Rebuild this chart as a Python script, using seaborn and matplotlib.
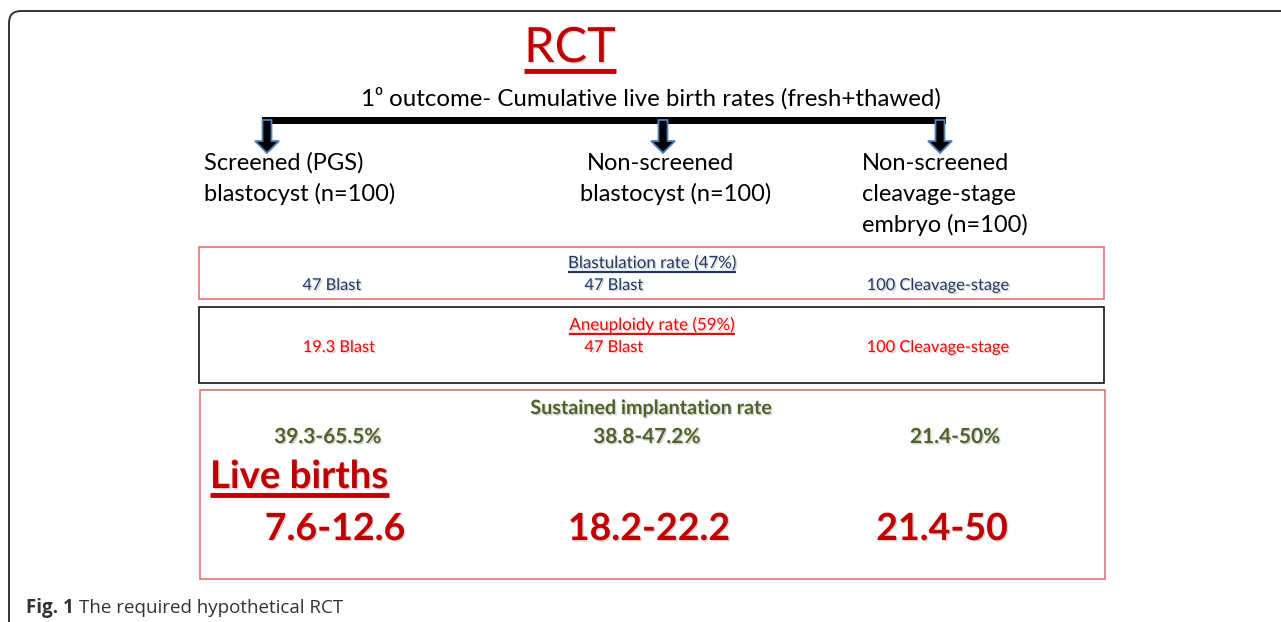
import seaborn as sns
import matplotlib.pyplot as plt
import matplotlib.patheffects as pe
from matplotlib.patches import FancyBboxPatch, Rectangle, FancyArrow

# textos del diagrama
titulo = "RCT"
subtitulo = "1\u2070 outcome- Cumulative live birth rates (fresh+thawed)"
grupos = [["Screened (PGS)", "blastocyst (n=100)"],
          ["Non-screened", "blastocyst (n=100)"],
          ["Non-screened", "cleavage-stage", "embryo (n=100)"]]
blastulacion = ["47 Blast", "47 Blast", "100 Cleavage-stage"]
aneuploidia = ["19.3 Blast", "47 Blast", "100 Cleavage-stage"]
implantacion = ["39.3-65.5%", "38.8-47.2%", "21.4-50%"]
nacidos = ["7.6-12.6", "18.2-22.2", "21.4-50"]
pie = ("Fig. 1", "The required hypothetical RCT")

# 1. Estilo base
sns.set_theme(style="white")
plt.rcParams["font.family"] = ["Lato", "DejaVu Sans"]

W, H = 1281, 622
fig = plt.figure(figsize=(W / 100, H / 100), dpi=100)
ax = fig.add_axes([0, 0, 1, 1])
ax.set_xlim(0, W)
ax.set_ylim(H, 0)
ax.axis("off")

sombra = [pe.withSimplePatchShadow(offset=(1, -1), alpha=0.35, shadow_rgbFace="gray")]

# 2. Marco exterior redondeado
ax.add_patch(FancyBboxPatch((9, 11), 1300, 700, boxstyle="round,pad=0,rounding_size=12",
                            fc="none", ec="#333333", lw=1.4))

# 3. Título y subtítulo
t_rct = ax.text(570, 62, titulo, ha="center", va="baseline", fontsize=35,
                color="#C00000", path_effects=sombra)
ax.text(651, 106, subtitulo, ha="center", va="baseline", fontsize=17.3, color="black")

# 4. Corchete con flechas
xs_flecha = [267, 663, 940]
ax.add_patch(Rectangle((262, 117), 946 - 262, 7, fc="black", ec="none"))
for x in xs_flecha:
    ax.add_patch(FancyArrow(x, 120, 0, 33, width=9, head_width=24, head_length=12,
                            length_includes_head=True, fc="black", ec="#4F81BD", lw=1.3))

# 5. Etiquetas de grupos
xs_grupo = [[204, 204], [587, 580], [862, 862, 862]]
for lineas, xs in zip(grupos, xs_grupo):
    for i, (linea, x) in enumerate(zip(lineas, xs)):
        ax.text(x, 170 + i * 31, linea, ha="left", va="baseline", fontsize=17, color="black")

# 6. Cajas
ax.add_patch(Rectangle((199, 247), 905, 52, fc="none", ec="#E06666", lw=1.1))
ax.add_patch(Rectangle((199, 307), 905, 76, fc="none", ec="black", lw=1.1))
ax.add_patch(Rectangle((200, 390), 905, 189, fc="none", ec="#E06666", lw=1.1))

subrayar = []
t = ax.text(652, 268, "Blastulation rate (47%)", ha="center", va="baseline",
            fontsize=12.2, color="#1F3864", path_effects=sombra)
subrayar.append((t, "#1F3864", 1.6))
for x, s in zip([332, 614, 938], blastulacion):
    ax.text(x, 290, s, ha="center", va="baseline", fontsize=11.8, color="#1F3864",
            path_effects=sombra)

t = ax.text(652, 330, "Aneuploidy rate (59%)", ha="center", va="baseline",
            fontsize=12.2, color="#FF0000", path_effects=sombra)
subrayar.append((t, "#FF0000", 1.6))
for x, s in zip([339, 614, 938], aneuploidia):
    ax.text(x, 352, s, ha="center", va="baseline", fontsize=11.8, color="#FF0000",
            path_effects=sombra)

ax.text(652, 414, "Sustained implantation rate", ha="center", va="baseline",
        fontsize=14.2, fontweight="bold", color="#4F6228", path_effects=sombra)
for x, s in zip([328, 647, 955], implantacion):
    ax.text(x, 443, s, ha="center", va="baseline", fontsize=15, fontweight="bold",
            color="#4F6228", path_effects=sombra)

t = ax.text(210, 488, "Live births", ha="left", va="baseline", fontsize=27.6,
            fontweight="bold", color="#C00000", path_effects=sombra)
subrayar.append((t, "#C00000", 3.5))
for x, s in zip([335, 649, 942], nacidos):
    ax.text(x, 540, s, ha="center", va="baseline", fontsize=27, fontweight="bold",
            color="#C00000", path_effects=sombra)
subrayar.append((t_rct, "#C00000", 3.5))

# 7. Pie de figura
t_fig = ax.text(26, 613, pie[0], ha="left", va="baseline", fontsize=13.5,
                fontweight="bold", color="#333333", family=["Open Sans", "DejaVu Sans"])

fig.canvas.draw()
r = fig.canvas.get_renderer()
bb = t_fig.get_window_extent(r)
ax.text(bb.x1 + 5, 613, pie[1], ha="left", va="baseline", fontsize=13.5,
        color="#333333", family=["Open Sans", "DejaVu Sans"])

# subrayados bajo los textos
for txt, col, lw in subrayar:
    b = txt.get_window_extent(r)
    y = H - b.y0 + 1
    ax.plot([b.x0, b.x1], [y, y], color=col, lw=lw, solid_capstyle="butt")

plt.savefig("out.png", dpi=100)
